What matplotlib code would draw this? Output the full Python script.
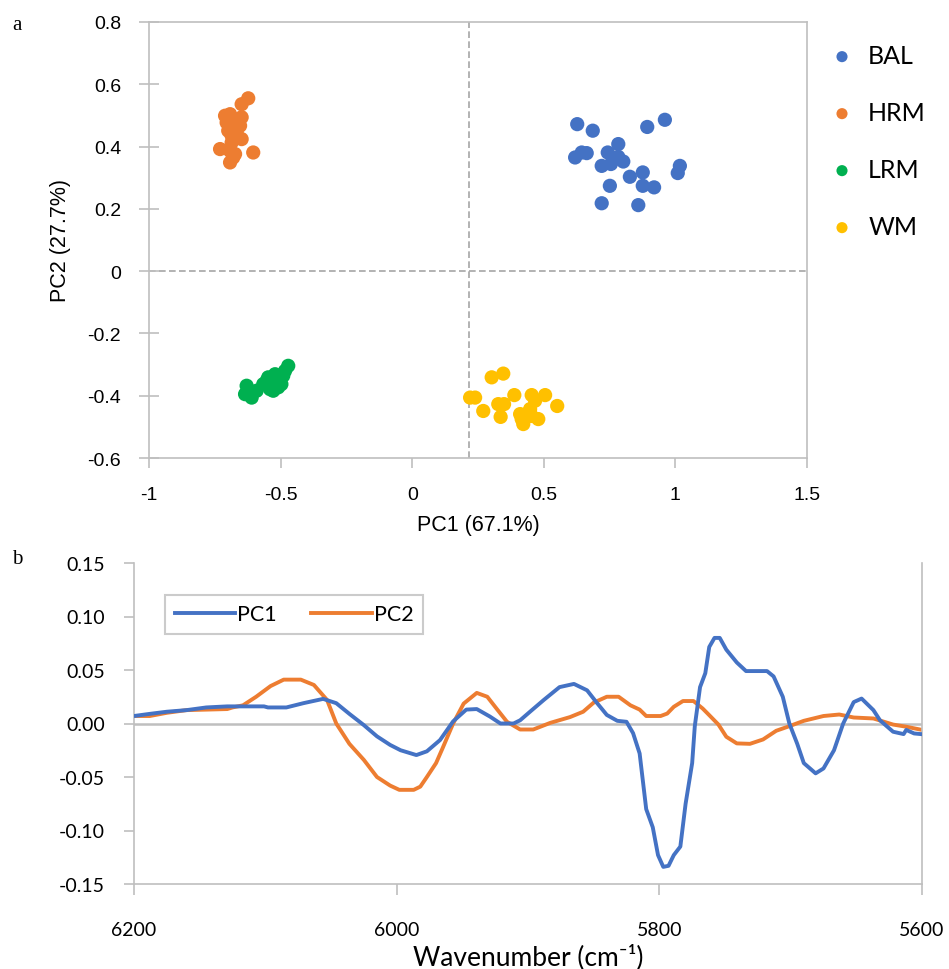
import matplotlib
matplotlib.use('Agg')
import matplotlib.pyplot as plt
from matplotlib.lines import Line2D
import numpy as np

GRAY = '#BFBFBF'
SANS = ['Liberation Sans', 'DejaVu Sans']
CAL = ['Lato', 'DejaVu Sans']
SERIF = ['Liberation Serif', 'DejaVu Serif']

# ---- panel a: PCA scores ----
GROUPS = ['BAL', 'HRM', 'LRM', 'WM']
GROUP_COLORS = ['#4472C4', '#ED7D31', '#00B050', '#FFC000']

BAL_PC1 = [0.627, 0.686, 0.893, 0.960, 0.783, 0.619, 0.644, 0.663, 0.743, 0.783, 0.802,
           0.720, 0.755, 1.017, 1.009, 0.827, 0.876, 0.751, 0.876, 0.919, 0.720, 0.859]
BAL_PC2 = [0.472, 0.451, 0.463, 0.486, 0.408, 0.365, 0.381, 0.379, 0.381, 0.367, 0.352,
           0.338, 0.344, 0.338, 0.315, 0.303, 0.317, 0.274, 0.274, 0.269, 0.218, 0.212]

HRM_PC1 = [-0.623, -0.648, -0.711, -0.692, -0.648, -0.705, -0.680, -0.654, -0.699, -0.667,
           -0.686, -0.648, -0.686, -0.730, -0.692, -0.604, -0.673, -0.692, -0.680]
HRM_PC2 = [0.555, 0.536, 0.499, 0.504, 0.494, 0.477, 0.472, 0.467, 0.451, 0.445,
           0.435, 0.424, 0.413, 0.392, 0.386, 0.381, 0.376, 0.349, 0.365]

LRM_PC1 = [-0.635, -0.610, -0.629, -0.591, -0.553, -0.540, -0.521, -0.509, -0.502, -0.483,
           -0.471, -0.528, -0.566, -0.490, -0.515, -0.547, -0.497]
LRM_PC2 = [-0.395, -0.406, -0.368, -0.384, -0.352, -0.379, -0.331, -0.373, -0.347, -0.320,
           -0.304, -0.384, -0.363, -0.336, -0.352, -0.341, -0.363]

WM_PC1 = [0.302, 0.346, 0.220, 0.239, 0.270, 0.327, 0.349, 0.336, 0.388, 0.410,
          0.454, 0.467, 0.505, 0.448, 0.435, 0.422, 0.479, 0.551, 0.416, 0.454]
WM_PC2 = [-0.341, -0.329, -0.406, -0.406, -0.449, -0.427, -0.427, -0.468, -0.398, -0.459,
          -0.398, -0.416, -0.398, -0.443, -0.459, -0.491, -0.475, -0.433, -0.475, -0.465]

SCORES = [(BAL_PC1, BAL_PC2), (HRM_PC1, HRM_PC2), (LRM_PC1, LRM_PC2), (WM_PC1, WM_PC2)]
CROSS_X = 0.216  # dashed vertical guide

# ---- panel b: loadings ----
PC1_WN = [6200, 6188, 6175, 6160, 6145, 6129, 6101, 6098, 6084, 6071, 6056, 6046, 6036, 6025,
          6015, 6005, 5997, 5985, 5977, 5967, 5957, 5947, 5939, 5929, 5921, 5911, 5906, 5898,
          5888, 5876, 5865, 5855, 5848, 5840, 5832, 5825, 5820, 5815, 5810, 5805, 5801, 5797,
          5793, 5789, 5784, 5780, 5775, 5773, 5769, 5765, 5762, 5758, 5754, 5749, 5741, 5734,
          5718, 5713, 5706, 5701, 5695, 5690, 5681, 5675, 5667, 5660, 5652, 5646, 5637, 5632,
          5622, 5614, 5612, 5606, 5600]
PC1_LOAD = [0.007, 0.009, 0.011, 0.0125, 0.015, 0.016, 0.016, 0.015, 0.015, 0.019, 0.023, 0.019,
            0.009, -0.0015, -0.012, -0.020, -0.025, -0.0295, -0.026, -0.0155, 0.002, 0.013,
            0.0135, 0.0065, 0.0, 0.0, 0.003, 0.0115, 0.022, 0.034, 0.037, 0.031, 0.020, 0.008,
            0.0025, 0.0016, -0.009, -0.028, -0.080, -0.097, -0.123, -0.134, -0.133, -0.123,
            -0.115, -0.075, -0.037, -0.0025, 0.034, 0.047, 0.0715, 0.080, 0.080, 0.069, 0.057,
            0.049, 0.049, 0.044, 0.025, 0.0, -0.019, -0.037, -0.0466, -0.042, -0.025, 0.0,
            0.020, 0.0233, 0.0125, 0.003, -0.0077, -0.0099, -0.006, -0.0093, -0.010]

PC2_WN = [6200, 6188, 6175, 6160, 6129, 6125, 6117, 6107, 6096, 6086, 6073, 6063, 6053, 6046,
          6036, 6025, 6015, 6005, 5998, 5987, 5982, 5977, 5970, 5965, 5957, 5949, 5939, 5931,
          5924, 5916, 5906, 5896, 5883, 5868, 5858, 5850, 5840, 5831, 5822, 5815, 5810, 5799,
          5794, 5789, 5782, 5774, 5767, 5762, 5755, 5749, 5741, 5731, 5721, 5711, 5701, 5690,
          5675, 5663, 5652, 5637, 5622, 5612, 5600]
PC2_LOAD = [0.007, 0.007, 0.010, 0.0125, 0.0135, 0.015, 0.017, 0.025, 0.035, 0.041, 0.041, 0.036,
            0.022, 0.0, -0.019, -0.034, -0.050, -0.058, -0.062, -0.062, -0.059, -0.050, -0.037,
            -0.023, 0.0, 0.0186, 0.0286, 0.025, 0.014, 0.0016, -0.0056, -0.0056, 0.0006, 0.006,
            0.011, 0.0195, 0.025, 0.025, 0.017, 0.013, 0.007, 0.007, 0.0093, 0.0156, 0.021,
            0.021, 0.014, 0.0078, -0.001, -0.0124, -0.0186, -0.019, -0.0149, -0.0068, -0.0025,
            0.0025, 0.007, 0.0084, 0.0056, 0.0047, -0.001, -0.003, -0.006]

fig = plt.figure(figsize=(9.49, 9.70), dpi=100)

# panel a
ax1 = fig.add_axes([149 / 949, 1 - 459 / 970, 658 / 949, 436 / 970])
for (xs, ys), name, col in zip(SCORES, GROUPS, GROUP_COLORS):
    ax1.scatter(xs, ys, s=105, color=col, edgecolors='none', label=name, zorder=3)
ax1.axvline(CROSS_X, color='#A6A6A6', linestyle=(0, (4, 2)), linewidth=1.2, zorder=1)
ax1.axhline(0, color='#A6A6A6', linestyle=(0, (4, 2)), linewidth=1.2, zorder=1)
ax1.set_xlim(-1, 1.5)
ax1.set_ylim(-0.6, 0.8)
ax1.set_xticks([-1, -0.5, 0, 0.5, 1, 1.5])
ax1.set_xticklabels(['-1', '-0.5', '0', '0.5', '1', '1.5'], family=SANS, fontsize=14)
ax1.set_yticks(np.arange(-0.6, 0.81, 0.2))
ax1.set_yticklabels(['-0.6', '-0.4', '-0.2', '0', '0.2', '0.4', '0.6', '0.8'], family=SANS, fontsize=14)
ax1.tick_params(axis='x', direction='out', length=7, width=1.2, color=GRAY, pad=13)
ax1.tick_params(axis='y', direction='inout', length=14, width=1.2, color=GRAY, pad=13)
for sp in ax1.spines.values():
    sp.set_color(GRAY)
    sp.set_linewidth(1.2)
ax1.set_xlabel('PC1 (67.1%)', family=SANS, fontsize=15.5, labelpad=8)
ax1.set_ylabel('PC2 (27.7%)', family=SANS, fontsize=15.5, labelpad=12)
leg1 = ax1.legend(loc='upper left', bbox_to_anchor=(1.0, 0.972), frameon=False,
                  prop={'family': CAL, 'size': 18}, handletextpad=0.05, labelspacing=1.36,
                  markerscale=0.78, borderaxespad=0)
fig.text(12 / 949, 1 - 25 / 970, 'a', family=SERIF, fontsize=15, va='center')

# panel b
ax2 = fig.add_axes([134 / 949, 1 - 885 / 970, 788 / 949, 321 / 970])
ax2.axhline(0, color=GRAY, linewidth=1.8, zorder=1)
ax2.plot(PC1_WN, PC1_LOAD, color='#4472C4', linewidth=2.8, label='PC1', zorder=3)
ax2.plot(PC2_WN, PC2_LOAD, color='#ED7D31', linewidth=2.8, label='PC2', zorder=2)
ax2.set_xlim(6200, 5600)
ax2.set_ylim(-0.15, 0.15)
ax2.set_xticks([6200, 6000, 5800, 5600])
ax2.set_xticklabels(['6200', '6000', '5800', '5600'], family=CAL, fontsize=14)
ax2.set_yticks(np.arange(-0.15, 0.151, 0.05))
ax2.set_yticklabels(['-0.15', '-0.10', '-0.05', '0.00', '0.05', '0.10', '0.15'], family=CAL, fontsize=14)
ax2.tick_params(axis='x', direction='out', length=8, width=1.2, color=GRAY, pad=19)
ax2.tick_params(axis='y', direction='out', length=7, width=1.2, color=GRAY, pad=14)
for sp in ax2.spines.values():
    sp.set_color(GRAY)
    sp.set_linewidth(1.2)
ax2.spines['top'].set_visible(False)
ax2.set_xlabel('Wavenumber (cm\u207b\u00b9)', family=CAL, fontsize=19, labelpad=3)
handles = [Line2D([], [], color='#4472C4', linewidth=2.8), Line2D([], [], color='#ED7D31', linewidth=2.8)]
leg2 = ax2.legend(handles, ['PC1', 'PC2'], loc='upper left', bbox_to_anchor=(0.026, 0.935), ncol=2,
                  prop={'family': CAL, 'size': 15.5}, fancybox=False, edgecolor=GRAY,
                  handlelength=2.8, handletextpad=0.1, columnspacing=1.6, borderpad=0.45)
leg2.get_frame().set_linewidth(1.5)
fig.text(12 / 949, 1 - 560 / 970, 'b', family=SERIF, fontsize=15, va='center')

fig.savefig('out.png', dpi=100)
